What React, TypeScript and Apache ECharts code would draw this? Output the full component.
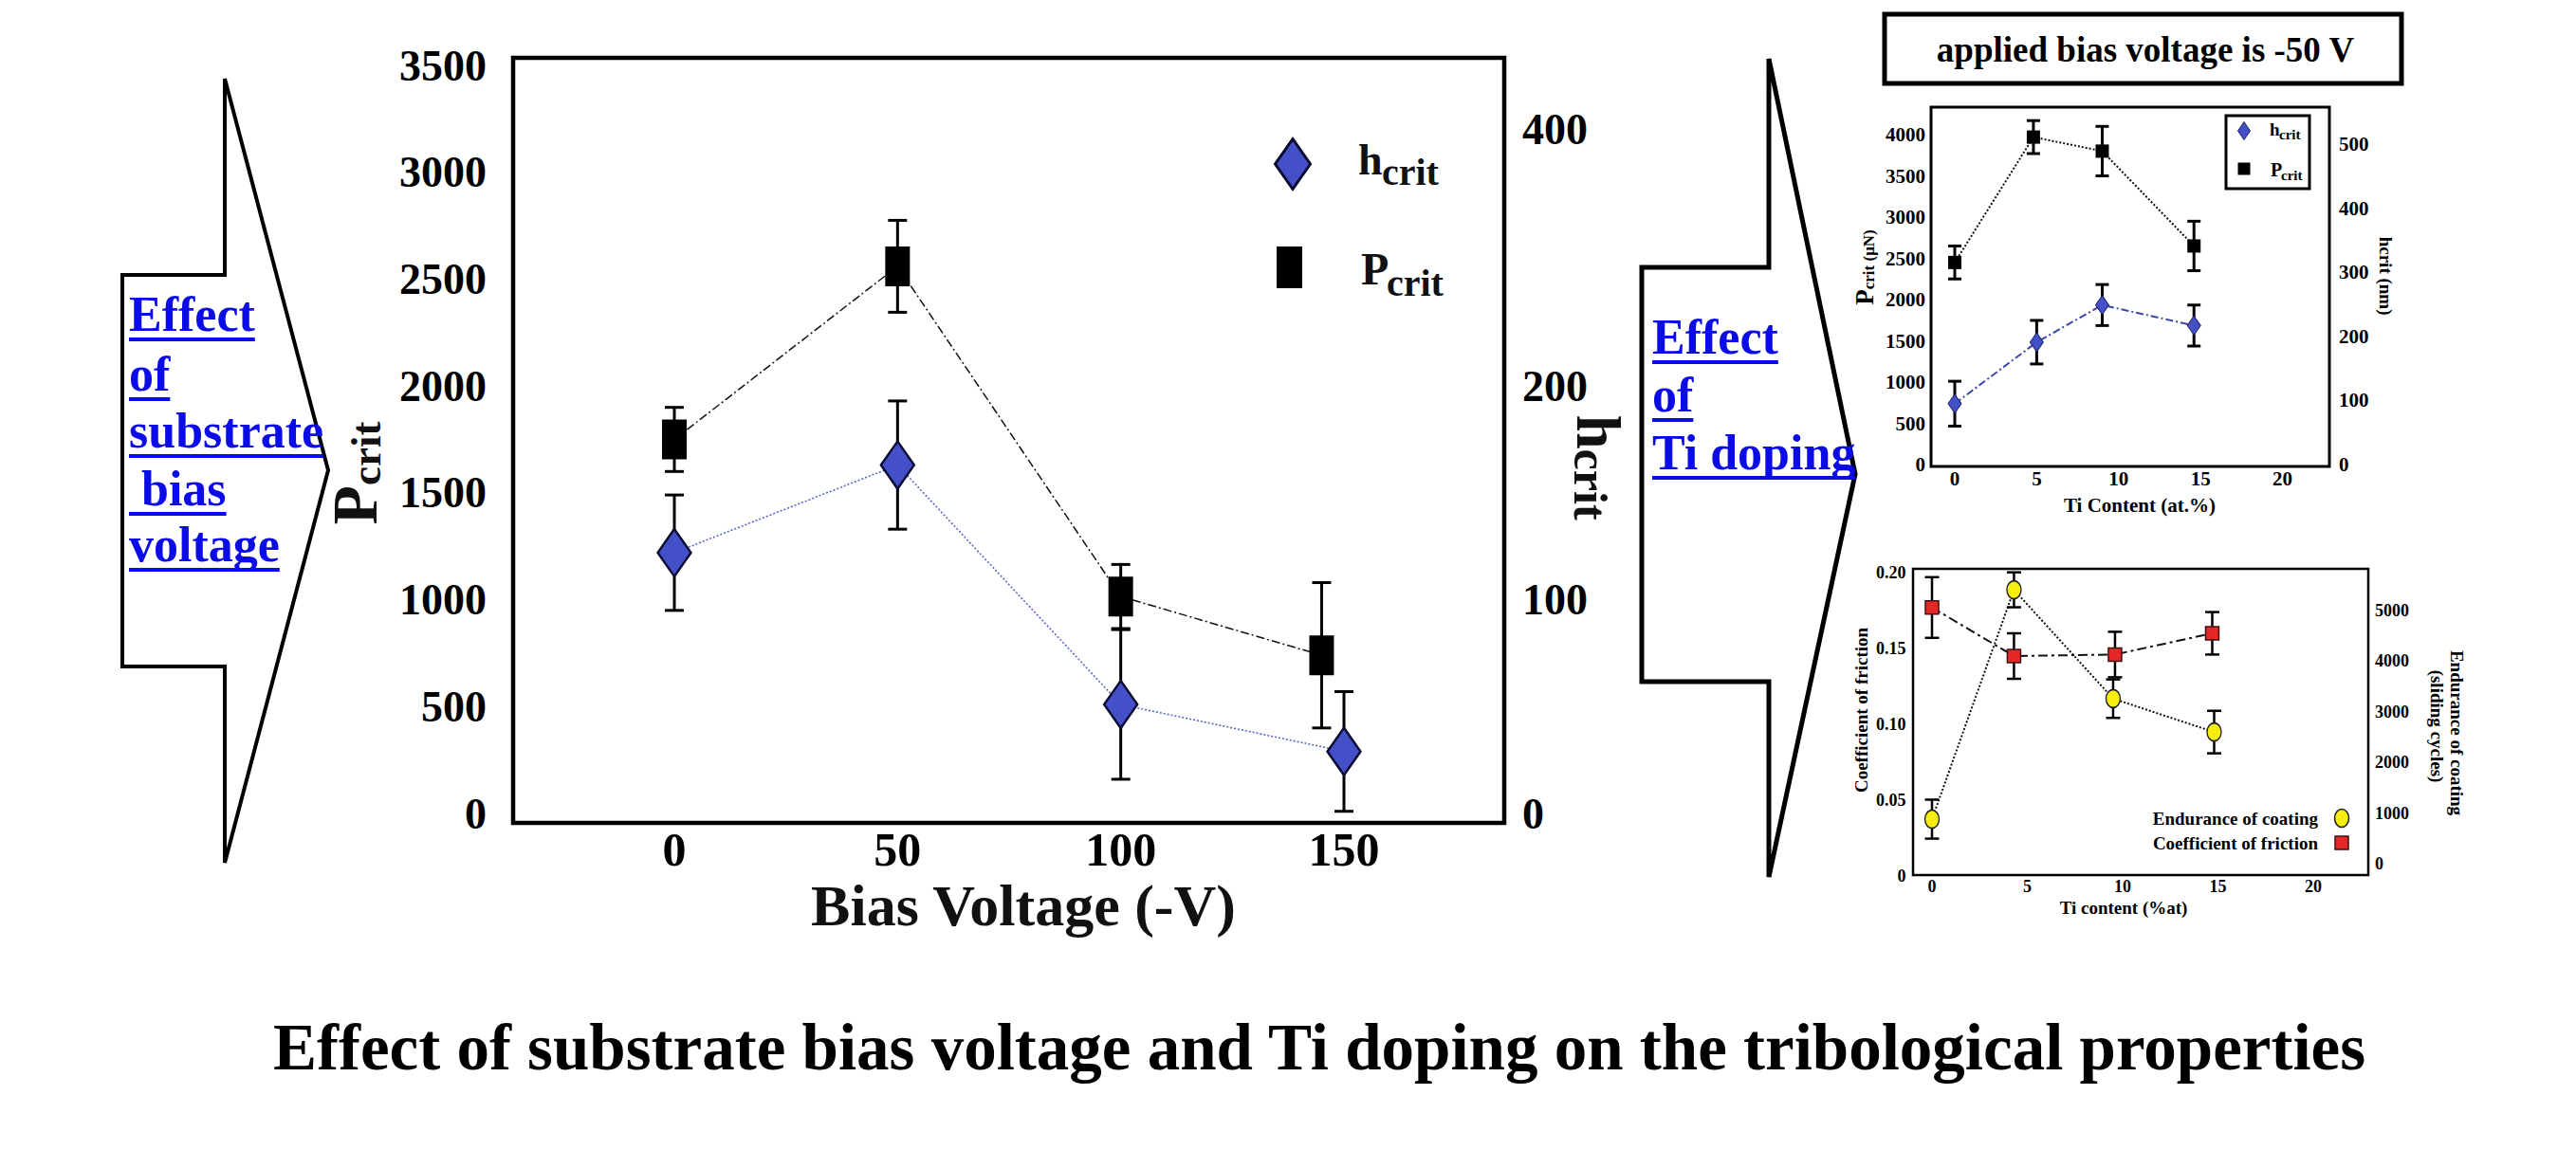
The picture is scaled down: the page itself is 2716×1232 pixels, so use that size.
import React, { useEffect, useRef } from "react";
import * as echarts from "echarts";

const SERIF = '"Liberation Serif", "Times New Roman", Times, serif';

// ---------- main chart: substrate bias voltage ----------
const biasTickInterval = 50;
const mainRightTickLabels = ["0", "100", "200", "400"];
const mainRightTickValues = [0, 100, 200, 320];
const pcritBiasX = [0, 50, 100, 145];
const pcritBias = [1750, 2560, 1015, 740];
const pcritBiasErr = [150, 215, 150, 340];
const hcritBiasX = [0, 50, 100, 150];
const hcritBias = [122, 163, 51, 29];
const hcritBiasErr = [27, 30, 35, 28];

// ---------- upper right: Ti doping, applied bias -50 V ----------
const pcritTiX = [0, 4.8, 9, 14.6];
const pcritTi = [2450, 3970, 3800, 2650];
const pcritTiErr = [200, 200, 300, 300];
const hcritTiX = [0, 5, 9, 14.6];
const hcritTi = [95, 191, 249, 217];
const hcritTiErr = [35, 34, 32, 32];
const urRightTicks = [0, 100, 200, 300, 400, 500];

// ---------- lower right: friction / endurance ----------
const cofX = [0, 4.3, 9.6, 14.7];
const cof = [0.177, 0.145, 0.146, 0.16];
const cofErr = [0.02, 0.015, 0.015, 0.014];
const enduranceX = [0, 4.3, 9.5, 14.8];
const endurance = [880, 5410, 3260, 2600];
const enduranceErr = [385, 345, 380, 420];
const lrRightTicks = [0, 1000, 2000, 3000, 4000, 5000];

const TITLE = "Effect of substrate bias voltage and Ti doping on the tribological properties";
const LEFT_ARROW_LINES = ["Effect", "of", "substrate", " bias", "voltage"];
const RIGHT_ARROW_LINES = ["Effect", "of", "Ti doping"];

const pts = (xs: number[], ys: number[]) => xs.map((x, i) => [x, ys[i]]);
const errs = (xs: number[], ys: number[], es: number[]) =>
  xs.map((x, i) => [x, ys[i] - es[i], ys[i] + es[i]]);

const plain = (v: number) => String(Math.round(v * 1000) / 1000);

function errorSeries(xi: number, yi: number, data: number[][], capW: number, lw: number) {
  return {
    type: "custom",
    xAxisIndex: xi,
    yAxisIndex: yi,
    z: 3,
    clip: false,
    silent: true,
    data,
    encode: { x: 0, y: [1, 2] },
    renderItem: (_p: any, api: any) => {
      const x = api.value(0);
      const lo = api.coord([x, api.value(1)]);
      const hi = api.coord([x, api.value(2)]);
      const h = capW / 2;
      const st = { stroke: "#000", lineWidth: lw };
      return {
        type: "group",
        children: [
          { type: "line", shape: { x1: lo[0], y1: lo[1], x2: hi[0], y2: hi[1] }, style: st },
          { type: "line", shape: { x1: lo[0] - h, y1: lo[1], x2: lo[0] + h, y2: lo[1] }, style: st },
          { type: "line", shape: { x1: hi[0] - h, y1: hi[1], x2: hi[0] + h, y2: hi[1] }, style: st },
        ],
      };
    },
  };
}

function lineSeries(xi: number, yi: number, data: number[][], color: string, width: number, dash: any) {
  return {
    type: "line",
    xAxisIndex: xi,
    yAxisIndex: yi,
    data,
    symbol: "none",
    z: 2,
    clip: false,
    silent: true,
    lineStyle: { color, width, type: dash },
  };
}

function markerSeries(xi: number, yi: number, data: number[][], symbol: string, size: any, fill: string, border: string, bw: number) {
  return {
    type: "scatter",
    xAxisIndex: xi,
    yAxisIndex: yi,
    data,
    symbol,
    symbolSize: size,
    z: 4,
    clip: false,
    silent: true,
    itemStyle: { color: fill, borderColor: border, borderWidth: bw, opacity: 1 },
  };
}

const noParts = { axisLine: { show: false }, axisTick: { show: false }, splitLine: { show: false } };
const lbl = (size: number, margin: number, extra: any = {}) => ({
  fontFamily: SERIF,
  fontWeight: "bold",
  fontSize: size,
  color: "#000",
  margin,
  formatter: plain,
  ...extra,
});

// text helper: y given as baseline (approx)
function txt(text: string, x: number, baseline: number, size: number, o: any = {}) {
  return {
    type: "text",
    x,
    y: baseline + 0.1625 * size,
    rotation: o.rot || 0,
    z: 10,
    style: {
      text,
      fontSize: size,
      fontFamily: SERIF,
      fontWeight: o.weight || "bold",
      fill: o.color || "#000",
      align: o.align || "left",
      textAlign: o.align || "left",
      verticalAlign: "bottom",
      textVerticalAlign: "bottom",
      rich: o.rich,
    },
  };
}
function midTxt(text: string, x: number, y: number, size: number, o: any = {}) {
  return {
    type: "text",
    x,
    y,
    rotation: o.rot || 0,
    z: 10,
    style: {
      text,
      fontSize: size,
      fontFamily: SERIF,
      fontWeight: "bold",
      fill: "#000",
      align: o.align || "center",
      textAlign: o.align || "center",
      verticalAlign: "middle",
      textVerticalAlign: "middle",
    },
  };
}
const box = (x: number, y: number, w: number, h: number, lw: number) => ({
  type: "rect",
  shape: { x, y, width: w, height: h },
  style: { fill: "none", stroke: "#000", lineWidth: lw },
  z: 5,
});
const diamond = (cx: number, cy: number, w: number, h: number, fill: string, stroke: string, lw: number) => ({
  type: "polygon",
  shape: { points: [[cx, cy - h / 2], [cx + w / 2, cy], [cx, cy + h / 2], [cx - w / 2, cy]] },
  style: { fill, stroke, lineWidth: lw },
  z: 10,
});

function measure(text: string, font: string) {
  const c = document.createElement("canvas").getContext("2d");
  if (!c) return text.length * 26;
  c.font = font;
  return c.measureText(text).width;
}

function arrowText(lines: string[], left: number, baselines: number[], size: number) {
  const font = `bold ${size}px ${SERIF}`;
  const blue = "#0b0be8";
  const out: any[] = [];
  lines.forEach((line, i) => {
    const lead = line.match(/^\s*/)![0];
    const leadW = lead ? measure(lead, font) : 0;
    const fullW = measure(line, font);
    out.push(txt(line.trim(), left + leadW, baselines[i], size, { color: blue }));
    out.push({
      type: "line",
      z: 10,
      shape: { x1: left, y1: baselines[i] + 9, x2: left + fullW, y2: baselines[i] + 9 },
      style: { stroke: blue, lineWidth: 4 },
    });
  });
  return out;
}

export default function App() {
  const ref = useRef<HTMLDivElement>(null);
  useEffect(() => {
    if (!ref.current) return;
    const chart = echarts.init(ref.current, undefined, { renderer: "svg" });

    const graphic: any[] = [
      // left arrow
      {
        type: "polygon",
        z: 5,
        shape: { points: [[237, 83], [346, 496], [237, 910], [237, 703], [129, 703], [129, 290], [237, 290]] },
        style: { fill: "none", stroke: "#000", lineWidth: 4 },
      },
      ...arrowText(LEFT_ARROW_LINES, 136, [349, 412, 472, 533, 592], 52),
      // main box
      box(541, 61, 1045, 807, 4.5),
      // main axis names
      {
        type: "text",
        x: 408,
        y: 499,
        rotation: Math.PI / 2,
        z: 10,
        style: {
          text: "{p|P}{s|crit}",
          align: "center",
          verticalAlign: "bottom",
          rich: {
            p: { fontSize: 68, fontFamily: SERIF, fontWeight: "bold", fill: "#111", verticalAlign: "bottom" },
            s: { fontSize: 45, fontFamily: SERIF, fontWeight: "bold", fill: "#111", verticalAlign: "bottom" },
          },
        },
      },
      {
        type: "text",
        x: 1652,
        y: 493,
        rotation: -Math.PI / 2,
        z: 10,
        style: {
          text: "{h|h}{s|crit}",
          align: "center",
          verticalAlign: "bottom",
          rich: {
            h: { fontSize: 65, fontFamily: SERIF, fontWeight: "bold", fill: "#111", verticalAlign: "bottom" },
            s: { fontSize: 50, fontFamily: SERIF, fontWeight: "bold", fill: "#111", verticalAlign: "bottom" },
          },
        },
      },
      txt("Bias Voltage (-V)", 1079, 976, 62, { align: "center", color: "#111" }),
      // main legend
      diamond(1363, 173, 37, 53, "#4450c8", "#0a0a30", 3),
      { type: "rect", z: 10, shape: { x: 1346, y: 260, width: 27, height: 44 }, style: { fill: "#000" } },
      txt("h", 1432, 184, 46, { color: "#111" }),
      txt("crit", 1457, 195, 40, { color: "#111" }),
      txt("P", 1435, 300, 48, { color: "#111" }),
      txt("crit", 1462, 312, 40, { color: "#111" }),

      // right arrow
      {
        type: "polygon",
        z: 5,
        shape: { points: [[1865, 62], [1956, 500], [1865, 925], [1865, 719], [1731, 719], [1731, 282], [1865, 282]] },
        style: { fill: "none", stroke: "#000", lineWidth: 5 },
      },
      ...arrowText(RIGHT_ARROW_LINES, 1742, [373, 434, 495], 52),

      // header box
      box(1987, 15, 545, 73, 5),
      txt("applied bias voltage is -50 V", 2262, 65, 37, { align: "center" }),

      // upper-right chart
      box(2036, 113, 420, 379, 3),
      box(2347, 122, 88, 77, 3),
      diamond(2366, 138, 13, 19, "#4450c8", "#202060", 1),
      { type: "rect", z: 10, shape: { x: 2359.5, y: 171.5, width: 13, height: 13 }, style: { fill: "#000" } },
      txt("h", 2393, 143, 19),
      txt("crit", 2403, 147, 15),
      txt("P", 2394, 186, 20),
      txt("crit", 2405, 190, 15),
      {
        type: "text",
        x: 1979,
        y: 282,
        rotation: Math.PI / 2,
        z: 10,
        style: {
          text: "{p|P}{s|crit (μN)}",
          align: "center",
          verticalAlign: "bottom",
          rich: {
            p: { fontSize: 27, fontFamily: SERIF, fontWeight: "bold", fill: "#000", verticalAlign: "bottom" },
            s: { fontSize: 17, fontFamily: SERIF, fontWeight: "bold", fill: "#000", verticalAlign: "bottom" },
          },
        },
      },
      txt("hcrit (nm)", 2506, 288, 19, { rot: -Math.PI / 2, align: "center" }),
      midTxt("Ti Content (at.%)", 2256, 533, 21),

      // lower-right chart
      box(2017, 600, 480, 323, 2.5),
      midTxt("Coefficient of friction", 1962, 749, 19, { rot: Math.PI / 2 }),
      midTxt("Endurance of coating", 2590, 773, 19, { rot: -Math.PI / 2 }),
      midTxt("(sliding cycles)", 2569, 766, 19, { rot: -Math.PI / 2 }),
      midTxt("Ti content (%at)", 2239, 957, 19),
      midTxt("Endurance of coating", 2444, 863, 19, { align: "right" }),
      {
        type: "ellipse",
        z: 10,
        shape: { cx: 2469, cy: 863, rx: 7.5, ry: 9.5 },
        style: { fill: "#f5ee10", stroke: "#202020", lineWidth: 1.5 },
      },
      midTxt("Coefficient of friction", 2444, 889, 19, { align: "right" }),
      {
        type: "rect",
        z: 10,
        shape: { x: 2462, y: 882, width: 14, height: 14 },
        style: { fill: "#e42828", stroke: "#401010", lineWidth: 1.5 },
      },

      // title
      txt(TITLE, 1391, 1128, 69, { align: "center" }),
    ];

    const option: any = {
      animation: false,
      backgroundColor: "#fff",
      grid: [
        { left: 711, top: 69, width: 706, height: 789 },
        { left: 2061, top: 142, width: 345.5, height: 348 },
        { left: 2037, top: 604, width: 402, height: 320 },
      ],
      xAxis: [
        { type: "value", gridIndex: 0, min: 0, max: 150, interval: biasTickInterval, ...noParts, axisLabel: lbl(50, 13) },
        { type: "value", gridIndex: 1, min: 0, max: 20, interval: 5, ...noParts, axisLabel: lbl(21, 4.5) },
        { type: "value", gridIndex: 2, min: 0, max: 20, interval: 5, ...noParts, axisLabel: lbl(18, 2) },
      ],
      yAxis: [
        { type: "value", gridIndex: 0, position: "left", min: 0, max: 3500, interval: 500, ...noParts, axisLabel: lbl(46, 198) },
        {
          type: "value",
          gridIndex: 0,
          position: "right",
          min: 0,
          max: 350,
          ...noParts,
          axisLabel: lbl(46, 188, {
            customValues: mainRightTickValues,
            formatter: (v: number) => {
              const i = mainRightTickValues.indexOf(v);
              return i >= 0 ? mainRightTickLabels[i] : "";
            },
          }),
        },
        { type: "value", gridIndex: 1, position: "left", min: 0, max: 4000, interval: 500, ...noParts, axisLabel: lbl(21, 31) },
        {
          type: "value",
          gridIndex: 1,
          position: "right",
          min: 0,
          max: 515,
          ...noParts,
          axisLabel: lbl(21, 59.5, { customValues: urRightTicks }),
        },
        {
          type: "value",
          gridIndex: 2,
          position: "left",
          min: 0,
          max: 0.2,
          interval: 0.05,
          ...noParts,
          axisLabel: lbl(18, 27.5, { formatter: (v: number) => (v === 0 ? "0" : v.toFixed(2)) }),
        },
        {
          type: "value",
          gridIndex: 2,
          position: "right",
          min: -243,
          max: 5749,
          ...noParts,
          axisLabel: lbl(18, 65, { customValues: lrRightTicks }),
        },
      ],
      series: [
        // main
        lineSeries(0, 0, pts(pcritBiasX, pcritBias), "#111", 1.5, [9, 3, 2, 3]),
        lineSeries(0, 1, pts(hcritBiasX, hcritBias), "#5a66c8", 1.6, [2, 2]),
        errorSeries(0, 0, errs(pcritBiasX, pcritBias, pcritBiasErr), 20, 3),
        errorSeries(0, 1, errs(hcritBiasX, hcritBias, hcritBiasErr), 20, 3),
        markerSeries(0, 0, pts(pcritBiasX, pcritBias), "rect", [26, 42], "#000", "#000", 0),
        markerSeries(0, 1, pts(hcritBiasX, hcritBias), "diamond", [35, 50], "#4450c8", "#0a0a30", 2.5),
        // upper right
        lineSeries(1, 2, pts(pcritTiX, pcritTi), "#111", 2, [2, 2]),
        lineSeries(1, 3, pts(hcritTiX, hcritTi), "#3c48a8", 2, [8, 3, 2, 3]),
        errorSeries(1, 2, errs(pcritTiX, pcritTi, pcritTiErr), 14, 3),
        errorSeries(1, 3, errs(hcritTiX, hcritTi, hcritTiErr), 14, 3),
        markerSeries(1, 2, pts(pcritTiX, pcritTi), "rect", 14, "#000", "#000", 0),
        markerSeries(1, 3, pts(hcritTiX, hcritTi), "diamond", [14, 20], "#4450c8", "#202060", 1),
        // lower right
        lineSeries(2, 4, pts(cofX, cof), "#111", 2, [10, 4, 3, 4]),
        lineSeries(2, 5, pts(enduranceX, endurance), "#111", 2, [2, 2]),
        errorSeries(2, 4, errs(cofX, cof, cofErr), 15, 2.5),
        errorSeries(2, 5, errs(enduranceX, endurance, enduranceErr), 15, 2.5),
        markerSeries(2, 4, pts(cofX, cof), "rect", 14, "#e42828", "#401010", 1.5),
        markerSeries(
          2,
          5,
          pts(enduranceX, endurance),
          "path://M10 0A10 10 0 1 1 10 20A10 10 0 1 1 10 0Z",
          [15, 19],
          "#f5ee10",
          "#202020",
          1.5
        ),
      ],
      graphic: { elements: graphic },
    };
    chart.setOption(option);
    return () => chart.dispose();
  }, []);

  return (
    <div
      ref={ref}
      style={{ position: "absolute", left: 0, top: 0, width: 2716, height: 1232, background: "#fff" }}
    />
  );
}
